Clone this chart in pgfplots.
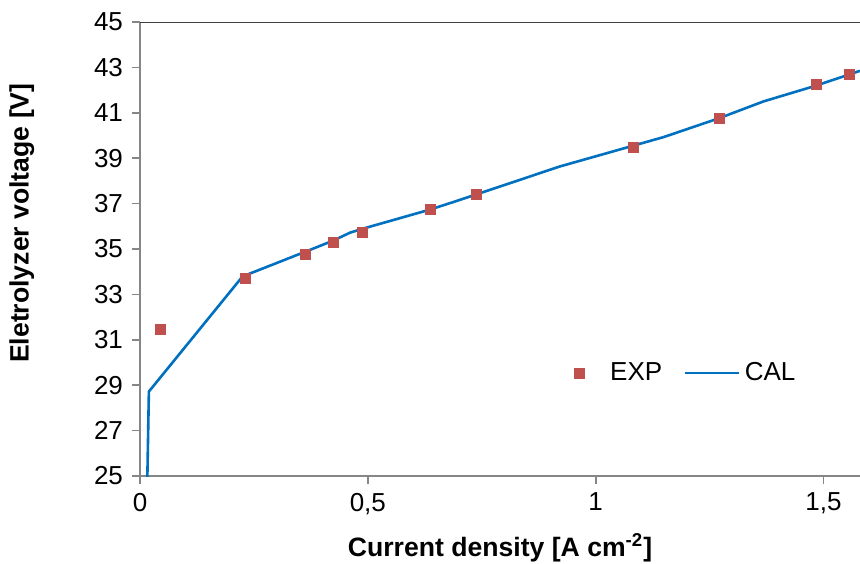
\documentclass[border=0pt]{standalone}
\usepackage{pgfplots}
\pgfplotsset{compat=1.18}
\usepackage{fontspec}
\setmainfont{Liberation Sans}
\definecolor{cExp}{HTML}{C0504D}
\definecolor{cCal}{HTML}{0070C0}
\definecolor{cAx}{HTML}{868686}
\begin{document}
\begin{tikzpicture}
\path[use as bounding box] (-70pt,-43.5pt) rectangle (360pt,238pt);
\begin{axis}[
  scale only axis, width=360pt, height=227pt,
  xmin=0, xmax=1.58, ymin=25, ymax=45,
  xtick={0,0.5,1,1.5}, xticklabels={0,{0,5},1,{1,5}},
  ytick={25,27,...,45},
  axis lines*=left, axis line style={cAx, line width=0.8pt},
  tick style={cAx, line width=0.8pt}, tick align=outside, major tick length=4pt,
  /pgf/number format/assume math mode=true,
  tick label style={font=\fontsize{13}{15}\selectfont},
  xticklabel style={yshift=-1pt},
  yticklabel style={xshift=-1pt},
  xlabel={\bfseries Current density [A cm\textsuperscript{-2}]},
  ylabel={\bfseries Eletrolyzer voltage [V]},
  label style={font=\fontsize{13.3}{15}\selectfont},
  xlabel style={at={(axis description cs:0.5,0)}, anchor=center, yshift=-36pt},
  ylabel style={at={(axis description cs:-0.164,0.557)}, anchor=center, rotate=0},
  legend columns=2,
  legend style={draw=none, fill=none, at={(axis cs:0.94,29.54)}, anchor=west,
    font=\fontsize{13}{15}\selectfont,
    /tikz/every even column/.append style={column sep=9pt}},
  legend cell align=left,
  clip=true,
]
\draw[black!75, line width=1pt] (rel axis cs:0,1) -- (rel axis cs:1,1);
\addplot[only marks, mark=square*, mark size=2.5pt, cExp,
  legend image code/.code={\draw plot coordinates {(0pt,0pt)}; \path (13pt,0pt);}] coordinates {
(0.044,31.44) (0.232,33.70) (0.362,34.77) (0.424,35.27) (0.489,35.73)
(0.637,36.76) (0.738,37.42) (1.082,39.48) (1.272,40.74) (1.484,42.23) (1.557,42.70)};
\addlegendentry{EXP}
\addplot[cCal, line width=1.3pt, mark=none,
  legend image code/.code={\draw[cCal, line width=1.3pt] (0pt,0pt) -- (27pt,0pt);}] coordinates {
(0.016,24.8) (0.0195,28.72) (0.225,33.79) (0.369,34.93) (0.424,35.37) (0.461,35.72)
(0.49,35.90) (0.637,36.74) (0.70,37.15) (0.922,38.64) (1.149,39.93) (1.272,40.77)
(1.368,41.50) (1.484,42.20) (1.58,42.85)};
\addlegendentry{CAL}
\end{axis}
\end{tikzpicture}
\end{document}
